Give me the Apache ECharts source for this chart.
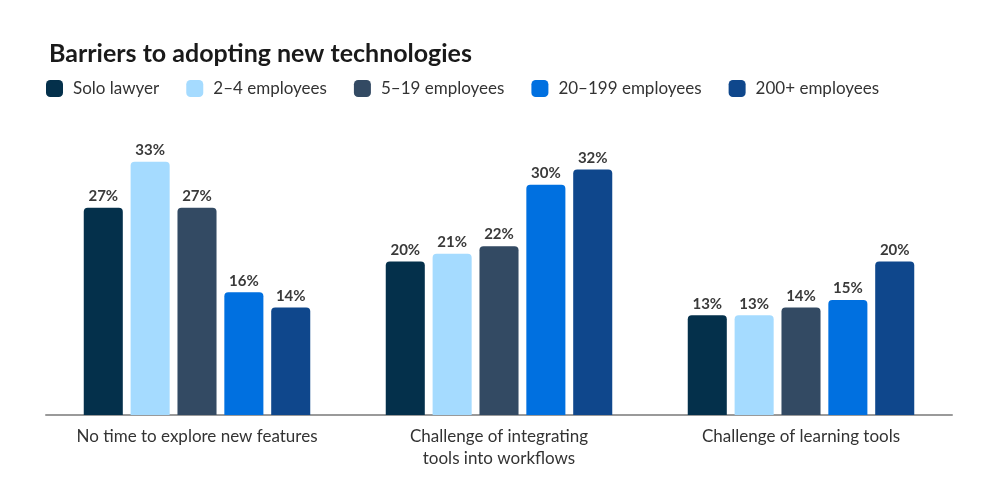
<!DOCTYPE html>
<html>
<head>
<meta charset="utf-8">
<title>Barriers to adopting new technologies</title>
<script src="https://cdn.jsdelivr.net/npm/echarts@6/dist/echarts.min.js"></script>
<style>
  html, body { margin: 0; padding: 0; background: #fff; }
  #main { width: 990px; height: 484px; }
</style>
</head>
<body>
<div id="main"></div>
<script>
// data
var categories = ['No time to explore new features', 'Challenge of integrating\ntools into workflows', 'Challenge of learning tools'];
var groups = ['Solo lawyer', '2–4 employees', '5–19 employees', '20–199 employees', '200+ employees'];
var soloLawyer = [27, 20, 13];
var emp2to4 = [33, 21, 13];
var emp5to19 = [27, 22, 14];
var emp20to199 = [16, 30, 15];
var emp200plus = [14, 32, 20];
var colors = ['#04304B', '#A5DBFF', '#334A63', '#0070E0', '#0F478C'];

var values = [soloLawyer, emp2to4, emp5to19, emp20to199, emp200plus];

var chart = echarts.init(document.getElementById('main'));

var series = groups.map(function (name, i) {
  return {
    name: name,
    type: 'bar',
    data: values[i],
    barGap: '20%',
    barCategoryGap: '25%',
    itemStyle: { color: colors[i], borderRadius: [4, 4, 0, 0] },
    label: {
      show: true,
      position: 'top',
      distance: 4,
      formatter: '{c}%',
      fontFamily: 'Lato',
      fontSize: 15,
      fontWeight: 'bold',
      color: '#3a3a3a'
    }
  };
});

chart.setOption({
  color: colors,
  title: {
    text: 'Barriers to adopting new technologies',
    left: 44,
    top: 36,
    textStyle: { fontFamily: 'Lato', fontWeight: 'bold', fontSize: 25, color: '#1a1a1a' }
  },
  legend: {
    data: groups,
    left: 46,
    top: 80,
    padding: 0,
    icon: 'roundRect',
    itemWidth: 17,
    itemHeight: 17,
    itemGap: 27,
    textStyle: { fontFamily: 'Lato', fontSize: 17, color: '#333', padding: [0, 0, 0, 5] }
  },
  grid: { left: 46, right: 38, top: 108, bottom: 69 },
  xAxis: {
    type: 'category',
    data: categories,
    axisTick: { show: false },
    axisLine: { lineStyle: { color: '#9a9a9a', width: 2 } },
    axisLabel: {
      margin: 11,
      interval: 0,
      fontFamily: 'Lato',
      fontSize: 17,
      lineHeight: 22,
      color: '#333'
    }
  },
  yAxis: {
    type: 'value',
    min: 0,
    max: 40,
    show: false
  },
  series: series
});
</script>
</body>
</html>
